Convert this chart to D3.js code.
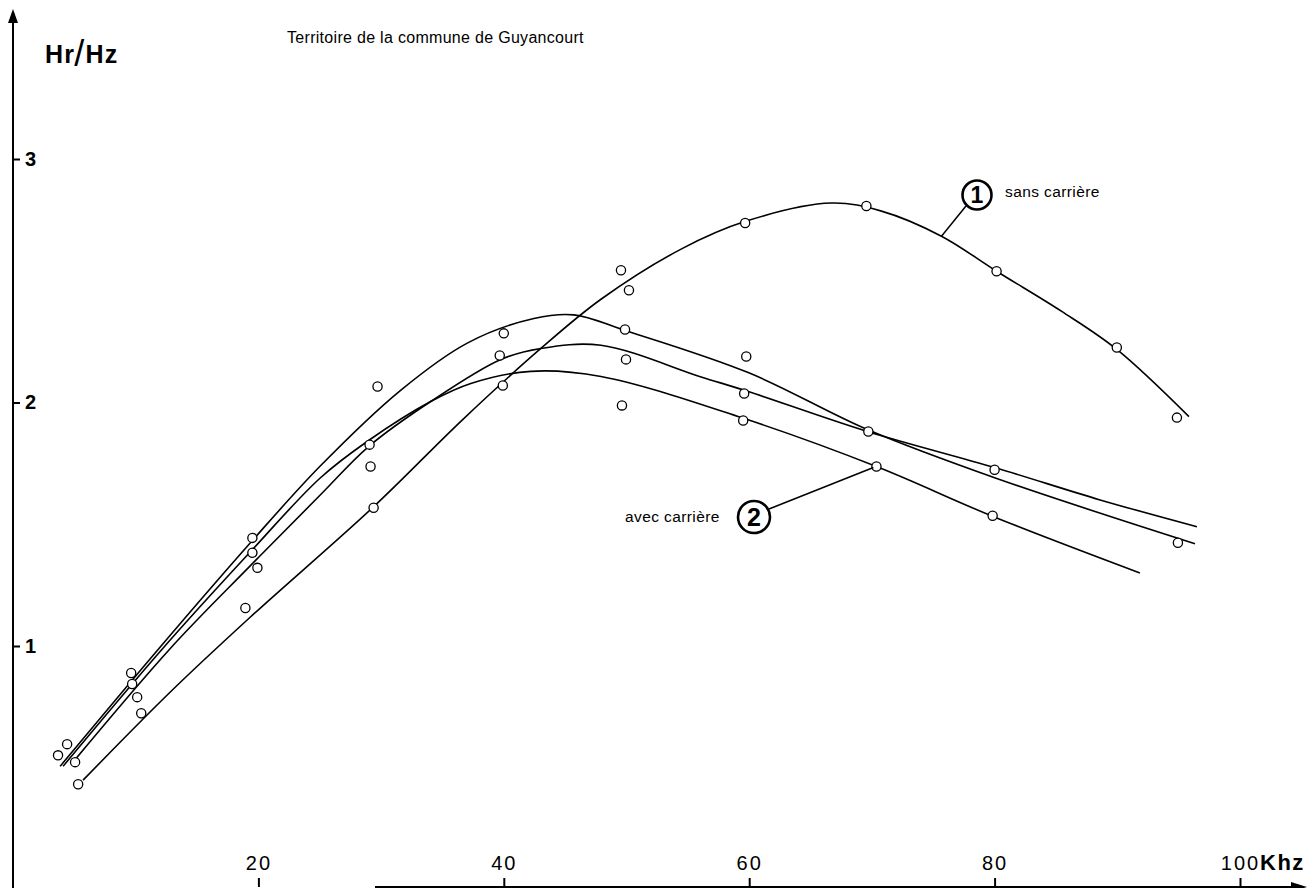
<!DOCTYPE html>
<html><head><meta charset="utf-8">
<script src="https://cdn.jsdelivr.net/npm/d3@7"></script>
<style>
html,body{margin:0;padding:0;background:#fff;}
svg{display:block;}
text{font-family:"Liberation Sans",Arial,sans-serif;fill:#000;}
</style></head>
<body>
<svg id="chart" width="1314" height="888"></svg>
<script>
// ---- data ----
const xTickValues = [20, 40, 60, 80, 100];
const yTickValues = [1, 2, 3];
const xUnit = "Khz";
const yUnit = ["Hr", "/", "Hz"];
const title = "Territoire de la commune de Guyancourt";
const label1 = "sans carrière";
const label2 = "avec carrière";

// measured points (kHz, Hr/Hz)
const obsFreq = [3.67, 4.41, 5.06, 5.31,
  9.63, 9.71, 10.12, 10.45,
  19.51, 19.51, 19.92, 18.94,
  29.71, 29.06, 29.14, 29.39,
  40.0, 39.67, 39.92,
  49.55, 50.2, 49.88, 49.96, 49.63,
  59.67, 59.76, 59.59, 59.51,
  69.55, 69.71, 70.37,
  80.16, 80.0, 79.84,
  89.96,
  94.86, 94.94];
const obsValue = [0.551, 0.597, 0.523, 0.432,
  0.889, 0.844, 0.79, 0.724,
  1.444, 1.383, 1.321, 1.156,
  2.066, 1.827, 1.737, 1.568,
  2.284, 2.193, 2.07,
  2.543, 2.461, 2.30, 2.177, 1.988,
  2.737, 2.189, 2.037, 1.926,
  2.807, 1.881, 1.737,
  2.539, 1.724, 1.535,
  2.226,
  1.938, 1.424];

// curve 1 : sans carrière
const c1Freq  = [5.71, 12.82, 19.35, 29.39, 36.65, 43.02, 47.92, 54.45, 59.76, 66.69, 70.78, 75.67, 80.16, 85.47, 89.96, 95.84];
const c1Value = [0.449, 0.811, 1.119, 1.572, 1.930, 2.222, 2.424, 2.630, 2.745, 2.819, 2.786, 2.683, 2.539, 2.374, 2.218, 1.942];

// curves 2 : avec carrière (three profiles)
const c2aFreq  = [3.84, 12.0, 19.35, 25.06, 31.59, 37.06, 42.45, 45.71, 49.88, 59.92, 69.63, 80.0, 96.33];
const c2aValue = [0.506, 0.996, 1.424, 1.74, 2.05, 2.245, 2.345, 2.36, 2.296, 2.123, 1.889, 1.691, 1.42];

const c2bFreq  = [4.82, 12.82, 19.35, 25.06, 28.98, 34.04, 39.76, 43.02, 47.92, 56.08, 59.92, 69.63, 80.0, 88.6, 96.49];
const c2bValue = [0.519, 0.99, 1.33, 1.621, 1.819, 2.004, 2.177, 2.222, 2.235, 2.105, 2.045, 1.881, 1.733, 1.60, 1.49];

const c2cFreq  = [4.08, 12.24, 19.35, 25.06, 28.98, 34.04, 37.31, 42.2, 47.92, 59.35, 70.37, 79.92, 91.84];
const c2cValue = [0.506, 0.992, 1.387, 1.691, 1.844, 2.004, 2.078, 2.128, 2.107, 1.938, 1.737, 1.531, 1.30];

// ---- drawing ----
const svg = d3.select("#chart");
const x = d3.scaleLinear().domain([0, 100]).range([13, 1240]);
const y = d3.scaleLinear().domain([1, 3]).range([646, 159]);
const axisY0 = 887;   // pixel row of the frequency axis
const axisX0 = x(0);

// curves
const line = d3.line().x(d => x(d[0])).y(d => y(d[1])).curve(d3.curveCatmullRom.alpha(0.5));
const curves = [
  d3.zip(c1Freq, c1Value),
  d3.zip(c2aFreq, c2aValue),
  d3.zip(c2bFreq, c2bValue),
  d3.zip(c2cFreq, c2cValue)
];
svg.append("g").selectAll("path").data(curves).join("path")
  .attr("d", line).attr("fill", "none").attr("stroke", "#000").attr("stroke-width", 1.6);

// points
svg.append("g").selectAll("circle").data(d3.zip(obsFreq, obsValue)).join("circle")
  .attr("cx", d => x(d[0])).attr("cy", d => y(d[1])).attr("r", 4.6)
  .attr("fill", "#fff").attr("stroke", "#000").attr("stroke-width", 1.3);

// y axis
svg.append("line").attr("x1", axisX0).attr("x2", axisX0).attr("y1", 888).attr("y2", 18)
  .attr("stroke", "#000").attr("stroke-width", 2);
svg.append("path").attr("d", `M${axisX0},9 L${axisX0 - 5},23 L${axisX0 + 5},23 Z`).attr("fill", "#000");
const gy = svg.append("g").attr("transform", `translate(${axisX0},0)`)
  .call(d3.axisRight(y).tickValues(yTickValues).tickSize(7).tickPadding(5).tickFormat(d3.format("d")));
gy.select(".domain").remove();
gy.selectAll(".tick line").attr("stroke", "#000").attr("stroke-width", 2);
gy.selectAll(".tick text").attr("font-family", "'Liberation Sans Narrow','Liberation Sans',sans-serif")
  .attr("font-size", 20).attr("font-weight", "bold").attr("fill", "#000");

// x axis
svg.append("line").attr("x1", 375).attr("x2", 1296).attr("y1", axisY0).attr("y2", axisY0)
  .attr("stroke", "#000").attr("stroke-width", 2);
svg.append("path").attr("d", `M1307,${axisY0} L1291,${axisY0 - 5} L1291,${axisY0 + 5} Z`).attr("fill", "#000");
const gx = svg.append("g").attr("transform", `translate(0,${axisY0})`)
  .call(d3.axisTop(x).tickValues(xTickValues).tickSize(9).tickPadding(8).tickFormat(d3.format("d")));
gx.select(".domain").remove();
gx.selectAll(".tick line").attr("stroke", "#000").attr("stroke-width", 2);
gx.selectAll(".tick text").attr("font-family", "'Liberation Sans Narrow','Liberation Sans',sans-serif")
  .attr("font-size", 20).attr("letter-spacing", 2).attr("fill", "#000");
svg.append("text").attr("x", x(100) + 20).attr("y", axisY0 - 17)
  .attr("font-size", 22).attr("font-weight", "bold").attr("letter-spacing", 1.5).text(xUnit);

// y unit
const yu = svg.append("text").attr("x", 45).attr("y", 63).attr("font-weight", "bold").attr("font-size", 25).attr("letter-spacing", 1.2);
yu.append("tspan").text(yUnit[0]);
yu.append("tspan").attr("font-weight", "normal").attr("font-size", 36).attr("dx", -1).attr("dy", 3).text(yUnit[1]);
yu.append("tspan").attr("dy", -3).text(yUnit[2]);

// title
svg.append("text").attr("x", 287).attr("y", 43).attr("font-size", 16).attr("letter-spacing", 0.3).text(title);

// label 1
const l1 = { cx: 977, cy: 195 };
svg.append("line").attr("x1", x(75.67)).attr("y1", y(2.683)).attr("x2", l1.cx - 11).attr("y2", l1.cy + 11)
  .attr("stroke", "#000").attr("stroke-width", 1.5);
svg.append("circle").attr("cx", l1.cx).attr("cy", l1.cy).attr("r", 14.5)
  .attr("fill", "#fff").attr("stroke", "#000").attr("stroke-width", 2.6);
svg.append("text").attr("x", l1.cx).attr("y", l1.cy + 8).attr("text-anchor", "middle")
  .attr("font-size", 23).attr("font-weight", "bold").text("1");
svg.append("text").attr("x", 1005).attr("y", 197).attr("font-size", 15.5).attr("letter-spacing", 0.4).text(label1);

// label 2
const l2 = { cx: 754, cy: 517 };
svg.append("line").attr("x1", l2.cx + 15).attr("y1", l2.cy - 8).attr("x2", x(70.37) - 3).attr("y2", y(1.737) + 1)
  .attr("stroke", "#000").attr("stroke-width", 1.5);
svg.append("circle").attr("cx", l2.cx).attr("cy", l2.cy).attr("r", 16)
  .attr("fill", "#fff").attr("stroke", "#000").attr("stroke-width", 2.6);
svg.append("text").attr("x", l2.cx).attr("y", l2.cy + 9).attr("text-anchor", "middle")
  .attr("font-size", 25).attr("font-weight", "bold").text("2");
svg.append("text").attr("x", 625).attr("y", 522).attr("font-size", 15.5).attr("letter-spacing", 0.4).text(label2);
</script>
</body></html>
